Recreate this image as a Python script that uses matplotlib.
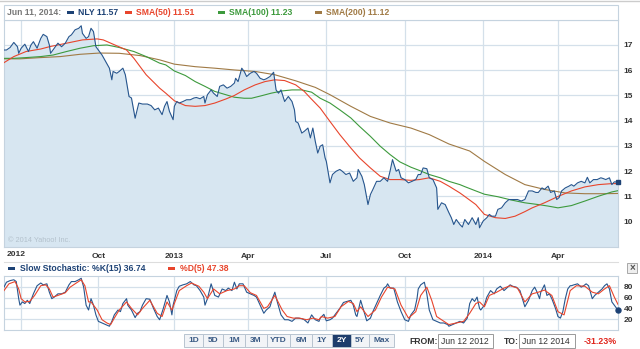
import numpy as np
import matplotlib.pyplot as plt
from matplotlib.patches import Rectangle
from matplotlib.lines import Line2D

plt.rcParams['font.family'] = ['Liberation Sans', 'DejaVu Sans']

# trading-day axis: day 0 = Jun 12 2012, day 501 = Jun 11 2014
START = '2012-06-12'
LAST = '2014-06-11'
HOLIDAYS = ['2012-07-04', '2012-09-03', '2012-10-29', '2012-10-30', '2012-11-22',
            '2012-12-25', '2013-01-01', '2013-01-21', '2013-02-18', '2013-03-29',
            '2013-05-27', '2013-07-04', '2013-09-02', '2013-11-28', '2013-12-25',
            '2014-01-01', '2014-01-20', '2014-02-17', '2014-04-18', '2014-05-26']

quarters = ['2012-07-01', '2012-10-01', '2013-01-01', '2013-04-01',
            '2013-07-01', '2013-10-01', '2014-01-01', '2014-04-01']
quarter_labels = ['', 'Oct', '2013', 'Apr', 'Jul', 'Oct', '2014', 'Apr']

# NLY close
nly_day = [0, 2, 5, 8, 11, 12, 14, 17, 20, 22, 24, 27, 30, 32, 35, 37, 38, 41, 44, 47,
           50, 53, 55, 58, 61, 63, 64, 67, 69, 71, 73, 75, 77, 80, 83, 86, 88, 89, 92, 94,
           97, 99, 102, 104, 107, 110, 113, 117, 120, 123,
           126, 129, 131, 133, 135, 138, 139, 141, 143, 146, 149, 152, 155, 157, 160, 163,
           164, 166, 169, 171, 174, 176, 179, 182, 185, 188, 189, 191, 194, 196, 198, 201,
           204, 206, 209, 212, 214, 217, 220, 222, 224, 226, 229, 232, 235, 237, 238, 240,
           243, 245, 248,
           250, 252, 254, 256, 258, 260, 262, 263, 266, 268, 271, 274, 276, 279, 282, 285,
           288, 289, 292, 294, 297, 299, 301, 304, 307, 310, 313, 315, 317, 320, 322, 324,
           327, 330, 333, 336, 338, 340, 342, 345, 347, 350, 353, 354, 357, 360, 363, 365,
           367, 369, 372, 374, 376, 379,
           382, 385, 387, 388, 391, 394, 396, 398, 401, 403, 406, 409, 412, 414, 417, 419,
           422, 425, 428, 431, 434, 436, 439, 441, 444, 446, 449, 451, 453, 455, 458, 461,
           463, 465, 468, 471, 474, 476, 478, 481, 484, 487, 489, 491, 494, 496, 498, 501]
nly_close = [16.80, 16.80, 16.90, 17.10, 16.93, 16.67, 16.87, 17.03, 16.74, 17.00,
             17.13, 16.87, 17.26, 17.42, 17.33, 17.00, 16.67, 16.87, 17.07, 16.93,
             17.07, 17.33, 17.40, 17.60, 17.66, 17.76, 17.46, 17.26, 17.33, 17.66,
             17.53, 16.93, 16.80, 16.60, 16.34, 16.08, 15.62, 15.95, 15.88, 15.95,
             16.08, 15.82, 14.96, 14.90, 14.10, 14.70, 14.66, 14.66, 14.60, 14.43,
             14.50, 14.24, 14.57, 14.76, 14.37, 14.04, 14.57, 14.76, 14.70, 14.76,
             14.83, 14.83, 14.90, 14.92, 14.87, 14.96, 14.70, 15.03, 15.22, 15.09,
             14.96, 15.36, 15.42, 15.29, 15.36, 15.49, 15.68, 15.55, 16.08, 15.95,
             15.75, 15.88, 15.95, 15.88, 15.68, 15.62, 15.66, 15.75, 15.92, 15.22,
             15.09, 15.22, 14.76, 14.96, 14.76, 14.43, 13.97, 13.91, 13.51, 13.58,
             13.71,
             13.32, 13.71, 13.18, 12.72, 12.99, 13.05, 12.53, 12.39, 11.54, 11.87,
             12.00, 12.07, 12.00, 11.87, 11.93, 11.60, 11.74, 12.07, 11.80, 11.47,
             10.68, 11.08, 11.28, 11.60, 11.60, 11.74, 11.60, 12.00, 12.46, 12.00,
             12.07, 11.74, 11.67, 11.54, 11.60, 11.67, 11.87, 11.87, 12.13, 12.10,
             11.74, 11.67, 11.34, 10.49, 10.75, 10.68, 10.36, 10.16, 9.89, 10.09,
             9.89, 9.79, 10.09, 9.89,
             10.16, 9.89, 10.16, 9.76, 10.03, 10.16, 10.29, 10.22, 10.22, 10.49,
             10.55, 10.75, 10.88, 10.88, 10.88, 10.88, 10.82, 10.88, 11.22, 11.22,
             11.16, 11.16, 11.34, 11.28, 11.41, 11.16, 11.22, 10.88, 10.96, 11.22,
             11.34, 11.41, 11.47, 11.41, 11.54, 11.60, 11.54, 11.76, 11.54, 11.67,
             11.67, 11.74, 11.71, 11.67, 11.74, 11.47, 11.58, 11.57]

# moving averages
sma50_day = [0, 8, 18, 30, 37, 51, 64, 76, 81, 89, 100, 106, 116, 127, 132, 139, 148,
             156, 164, 172, 181, 188, 196, 205, 213, 221, 229, 238, 245, 250, 258, 266,
             274, 283, 290, 299, 307, 315, 323, 332, 339, 347, 356, 363, 372, 376, 385,
             392, 401, 409, 417, 425, 431, 441, 452, 463, 474, 485, 496, 501]
sma50 = [16.30, 16.54, 16.74, 16.84, 16.93, 17.07, 17.20, 17.24, 17.20, 17.03, 16.80,
         16.47, 15.82, 15.29, 15.09, 14.79, 14.60, 14.57, 14.60, 14.70, 14.86, 15.00,
         15.22, 15.42, 15.55, 15.62, 15.59, 15.42, 15.16, 14.90, 14.50, 13.97, 13.45,
         12.92, 12.53, 12.13, 11.80, 11.67, 11.67, 11.64, 11.67, 11.74, 11.60, 11.41,
         11.14, 11.00, 10.68, 10.29, 10.16, 10.13, 10.22, 10.40, 10.55, 10.75, 11.00,
         11.22, 11.38, 11.47, 11.51, 11.51]

sma100_day = [0, 8, 18, 30, 40, 51, 62, 73, 84, 94, 106, 116, 127, 132, 139, 148, 156,
              164, 172, 181, 188, 196, 202, 211, 218, 227, 235, 243, 251, 258, 266, 274,
              283, 290, 299, 307, 315, 323, 332, 339, 347, 356, 363, 372, 376, 385, 392,
              403, 414, 425, 436, 444, 452, 463, 474, 485, 496, 501]
sma100 = [16.47, 16.47, 16.50, 16.54, 16.60, 16.74, 16.87, 16.97, 17.00, 16.90, 16.74,
          16.54, 16.28, 16.21, 15.97, 15.79, 15.55, 15.36, 15.16, 15.03, 14.93, 14.89,
          14.89, 15.00, 15.09, 15.18, 15.22, 15.22, 15.13, 14.89, 14.70, 14.43, 14.11,
          13.78, 13.38, 12.99, 12.66, 12.37, 12.16, 12.03, 11.87, 11.74, 11.60, 11.47,
          11.39, 11.22, 11.09, 10.99, 10.86, 10.75, 10.68, 10.62, 10.55, 10.64, 10.82,
          11.01, 11.18, 11.23]

sma200_day = [0, 13, 30, 46, 62, 78, 94, 111, 127, 139, 156, 172, 188, 205, 221, 238,
              254, 266, 283, 299, 315, 332, 347, 363, 380, 392, 409, 425, 441, 458, 474,
              490, 501]
sma200 = [16.45, 16.45, 16.50, 16.54, 16.63, 16.68, 16.67, 16.58, 16.41, 16.24, 16.14,
          16.08, 16.01, 15.95, 15.82, 15.58, 15.32, 15.03, 14.57, 14.17, 13.91, 13.71,
          13.45, 13.08, 12.80, 12.39, 11.87, 11.47, 11.28, 11.14, 11.11, 11.11, 11.12]

# slow stochastic
k_day = [0, 2, 5, 8, 10, 12, 13, 15, 17, 19, 21, 24, 27, 30, 32, 35, 37, 39, 41, 44,
         47, 50, 53, 55, 58, 61, 63, 65, 67, 69, 71, 73, 75, 77, 80, 83, 86, 88, 90, 93,
         95, 97, 100, 101, 104, 107, 109, 111, 113, 116, 119, 122, 125, 127, 130, 133,
         135, 137, 138, 141, 143, 146, 149, 152, 155, 157, 160, 163, 164, 166, 169, 172,
         175, 178, 181, 183, 186, 188, 190, 192, 195, 198, 201, 204, 206, 209, 212, 214,
         217, 219, 221, 223, 226, 229, 232, 235, 238, 240, 243, 245, 248, 251, 254, 257,
         258, 261, 263, 266, 268, 271, 274, 277, 280, 283, 285, 287, 288, 291, 293, 296,
         299, 301, 304, 307, 310, 312, 313, 315, 318, 321, 324, 327, 330, 332, 335, 337,
         338, 340, 343, 345, 347, 350, 353, 356, 359, 362, 363, 366, 369, 372, 375, 378,
         380, 382, 384, 386, 388, 389, 392, 394, 397, 400, 402, 405, 408, 411, 413, 415,
         418, 421, 423, 425, 428, 431, 433, 435, 437, 438, 441, 443, 445, 447, 450, 452,
         454, 456, 458, 460, 462, 463, 465, 468, 471, 473, 475, 477, 480, 482, 485, 488,
         490, 492, 494, 496, 498, 501]
k_val = [79.4, 88.5, 91.5, 93, 89.7, 58, 46, 52, 49, 55, 49, 67, 82, 87, 83.6, 85.5,
         70, 58, 61, 67, 67, 70, 83.6, 89.7, 89.7, 93, 95.8, 79.4, 46, 37, 58, 46, 28,
         16, 13, 10, 7, 16, 28, 37, 34, 49, 58, 46, 37, 23, 31, 34, 46, 58, 57, 40, 25,
         19, 40, 64, 52, 28, 46, 73, 81, 83.6, 85.5, 89.7, 83.6, 82, 73, 61, 46, 58,
         85.5, 64, 61, 76, 73, 77.6, 73, 88.5, 76, 85.5, 85.5, 70, 67, 64, 61, 46, 31,
         37, 43, 58, 70, 52, 28, 19, 19, 16, 22, 22, 21, 19, 13, 28, 19, 16,
         22, 29, 17, 19, 22, 31, 40, 51, 53, 55, 46, 28, 25, 55, 40, 17, 22, 34, 49, 64,
         77.6, 81, 85.5, 77.6, 77.6, 52, 34, 19, 16, 28, 37, 58, 76, 83.6, 88.5, 67, 37,
         19, 16, 13, 13, 10, 7, 10, 13, 16, 13, 22, 49, 58, 53, 61, 40, 37, 46, 61, 73,
         67, 76, 81, 73, 79.4, 83.6, 81, 79.4, 73, 58, 43, 55, 73, 79.4, 70, 58, 70,
         83.6, 64, 67, 58, 40, 25, 22, 34, 58, 76, 82, 82, 83.6, 85.5, 79.4, 82, 85.5,
         82, 58, 64, 70, 76, 82, 85.5, 76, 52, 46, 36.74]

d_day = [0, 4, 9, 12, 14, 17, 21, 25, 30, 34, 37, 40, 44, 50, 54, 58, 63, 66, 69, 71,
         76, 80, 84, 87, 90, 94, 100, 104, 109, 113, 119, 125, 129, 133, 137, 139, 143,
         149, 153, 159, 163, 166, 171, 176, 182, 188, 192, 196, 201, 206, 212, 215, 221,
         227, 231, 236, 241, 247, 252, 257, 259, 264, 270, 275, 281, 285, 288, 291, 297,
         303, 308, 313, 319, 324, 330, 336, 340, 345, 349, 353, 359, 363, 369, 375, 380,
         385, 388, 392, 396, 402, 408, 413, 419, 425, 431, 436, 441, 447, 452, 457, 462,
         467, 474, 480, 485, 490, 494, 498, 501]
d_val = [73, 85.5, 89.7, 76, 58, 52, 53, 64, 82, 83.6, 76, 61, 64, 69, 79.4, 85.5, 93,
         82, 52, 52, 37, 19, 13, 10, 22, 37, 52, 40, 28, 40, 55, 31, 25, 52, 37, 49, 73,
         82, 87, 81, 70, 58, 76, 67, 73, 76, 82, 82, 69, 64, 40, 43, 64, 37, 25, 22, 22,
         19, 22, 19, 25, 22, 25, 43, 53, 49, 34, 43, 25, 37, 61, 79.4, 76, 46, 22, 34,
         64, 79.4, 55, 25, 16, 10, 13, 16, 31, 49, 52, 43, 64, 70, 77.6, 82, 77.6, 52,
         67, 70, 74, 64, 34, 28, 73, 82, 81, 70, 67, 76, 82, 61, 47.38]

BLUE = '#27568e'
DARK = '#1d4275'
RED = '#e8452c'
GREEN = '#3d9a3d'
BROWN = '#a07a45'
GRID = '#d4e0ea'
EDGE = '#c5d3df'
TXT = '#333333'
LW = 0.8

W, H = 640, 349


def fx(x):
    return x / W


def fy(y):
    return 1 - y / H


def tday(d):
    return int(np.busday_count(START, d, holidays=HOLIDAYS))


qpos = [tday(q) for q in quarters]
xmax = tday(LAST)

fig = plt.figure(figsize=(6.4, 3.49), dpi=100)

# ---- price panel ----
ax = fig.add_axes([fx(4), fy(247), fx(618) - fx(4), fy(19.7) - fy(247)])
ax.fill_between(nly_day, nly_close, 9, color='#d7e6f1', lw=0, zorder=1)
ax.plot(sma200_day, sma200, color=BROWN, lw=LW, zorder=3)
ax.plot(sma100_day, sma100, color=GREEN, lw=LW, zorder=3)
ax.plot(sma50_day, sma50, color=RED, lw=LW, zorder=3)
ax.plot(nly_day, nly_close, color=BLUE, lw=LW, zorder=4)
ax.plot(nly_day[-1], nly_close[-1], 's', ms=3.2, color=DARK, zorder=5, clip_on=False)
ax.set_xlim(0, xmax)
ax.set_ylim(9, 18)
ax.set_yticks(range(10, 18))
ax.set_xticks(qpos)
ax.set_xticklabels(quarter_labels)
ax.yaxis.tick_right()
ax.tick_params(length=0, labelsize=6, labelcolor=TXT, pad=4)
ax.tick_params(axis='x', pad=4.5)
for lab in ax.get_xticklabels() + ax.get_yticklabels():
    lab.set_fontweight('bold')
ax.grid(color=GRID, lw=0.9, zorder=0)
ax.set_axisbelow(True)
for s in ax.spines.values():
    s.set_color(EDGE)
    s.set_linewidth(0.8)
ax.text(0.006, 0.027, '\u00a9 2014 Yahoo! Inc.', transform=ax.transAxes,
        color='#b3c1cc', fontsize=5.3, va='center', ha='left', zorder=2)
fig.text(fx(7), fy(255), '2012', fontsize=6, fontweight='bold', color=TXT,
         ha='left', va='center')

# ---- stochastic panel ----
ax2 = fig.add_axes([fx(4), fy(330), fx(618) - fx(4), fy(276) - fy(330)])
ax2.plot(k_day, k_val, color=BLUE, lw=LW, zorder=3)
ax2.plot(d_day, d_val, color=RED, lw=LW, zorder=4)
ax2.plot(k_day[-1], k_val[-1], 'o', ms=3.6, color=DARK, zorder=5, clip_on=False)
ax2.set_xlim(0, xmax)
ax2.set_ylim(0, 100)
ax2.set_yticks([20, 40, 60, 80])
ax2.set_xticks(qpos)
ax2.set_xticklabels([])
ax2.yaxis.tick_right()
ax2.tick_params(length=0, labelsize=6, labelcolor=TXT, pad=4)
for lab in ax2.get_yticklabels():
    lab.set_fontweight('bold')
ax2.grid(color=GRID, lw=0.9, zorder=0)
ax2.set_axisbelow(True)
for s in ax2.spines.values():
    s.set_color(EDGE)
    s.set_linewidth(0.8)

# ---- header legend ----
fig.add_artist(Line2D([0, 1], [fy(1), fy(1)], color='#cccccc', lw=1))
fig.add_artist(Rectangle((fx(4), fy(19.7)), fx(618) - fx(4), fy(5) - fy(19.7),
                         facecolor='white', edgecolor=EDGE, lw=0.8))
ly = fy(12.5)
fig.text(fx(7), ly, 'Jun 11, 2014:', color='#777777', fontsize=6.2,
         fontweight='bold', va='center')
legend_items = [(67, 'NLY 11.57', DARK), (125, 'SMA(50) 11.51', RED),
                (218, 'SMA(100) 11.23', GREEN), (315, 'SMA(200) 11.12', BROWN)]
for x0, label, col in legend_items:
    fig.add_artist(Rectangle((fx(x0), fy(14)), fx(7), fy(11) - fy(14),
                             facecolor=col, edgecolor='none'))
    fig.text(fx(x0 + 11), ly, label, color=col, fontsize=6.2,
             fontweight='bold', va='center')

# ---- stochastic legend ----
fig.add_artist(Line2D([fx(4), fx(618)], [fy(261.5), fy(261.5)], color='#dddddd', lw=0.8))
sy = fy(268.5)
for x0, label, col in [(8, 'Slow Stochastic: %K(15) 36.74', DARK), (168, '%D(5) 47.38', RED)]:
    fig.add_artist(Rectangle((fx(x0), fy(270)), fx(7), fy(267) - fy(270),
                             facecolor=col, edgecolor='none'))
    fig.text(fx(x0 + 12), sy, label, color=col, fontsize=6.2,
             fontweight='bold', va='center')
fig.add_artist(Rectangle((fx(627), fy(273)), fx(10), fy(263) - fy(273),
                         facecolor='#eeeeee', edgecolor='#a8a8a8', lw=0.7))
fig.text(fx(632), fy(268), '\u00d7', color='#555555', fontsize=7,
         ha='center', va='center', fontweight='bold')

# ---- range buttons ----
buttons = [('1D', 184, 203), ('5D', 203, 223), ('1M', 223, 245), ('3M', 245, 267),
           ('YTD', 267, 290), ('6M', 290, 312), ('1Y', 312, 332), ('2Y', 332, 351),
           ('5Y', 351, 369), ('Max', 369, 394)]
for label, x0, x1 in buttons:
    active = label == '2Y'
    fig.add_artist(Rectangle((fx(x0), fy(347)), fx(x1 - x0), fy(334) - fy(347),
                             facecolor='#1e3d6c' if active else '#f2f4f7',
                             edgecolor='#b8c4d0', lw=0.7))
    fig.text(fx((x0 + x1) / 2), fy(340.8), label, fontsize=6, fontweight='bold',
             color='white' if active else '#3b5b85', ha='center', va='center')

fig.text(fx(409), fy(341), 'FROM:', fontsize=6.2, fontweight='bold', color=TXT, va='center')
fig.text(fx(504), fy(341), 'TO:', fontsize=6.2, fontweight='bold', color=TXT, va='center')
for x0, x1, label in [(438, 493, 'Jun 12 2012'), (519, 575, 'Jun 12 2014')]:
    fig.add_artist(Rectangle((fx(x0), fy(348)), fx(x1 - x0), fy(334) - fy(348),
                             facecolor='white', edgecolor='#999999', lw=0.7))
    fig.text(fx(x0 + 3), fy(341), label, fontsize=6.2, color=TXT, va='center')
fig.text(fx(584), fy(341), '-31.23%', fontsize=6.4, fontweight='bold',
         color='#e0261d', va='center')

fig.savefig('out.png', dpi=100)
